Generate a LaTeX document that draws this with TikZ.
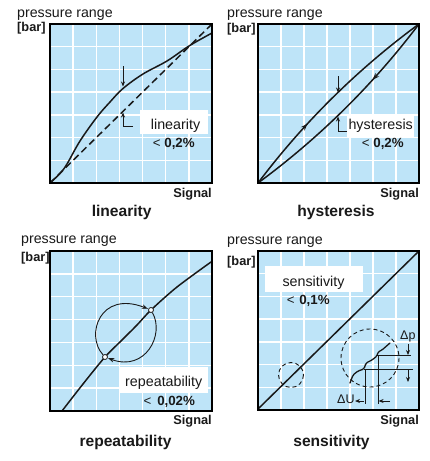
\documentclass[tikz,border=0pt]{standalone}
\usepackage{fontspec}
\setmainfont{Liberation Sans}
\usetikzlibrary{arrows.meta,decorations.markings}
\definecolor{bgblue}{RGB}{190,228,248}
\definecolor{ink}{RGB}{25,25,25}
\newcommand\gridpanel[4]{%
  \fill[bgblue] (#1,#2) rectangle ++(#3,#4);
  \foreach \k in {1,...,6}{%
    \draw[gridl] ({#1+\k*#3/7},#2) -- ++(0,#4);
    \draw[gridl] (#1,{#2+\k*#4/7}) -- ++(#3,0);
  }%
}
\newcommand\panelframe[4]{\draw[frame] (#1,#2) rectangle ++(#3,#4);}
\begin{document}
\begin{tikzpicture}[x=1pt,y=-1pt,
  frame/.style={draw=black,line width=1.3pt},
  gridl/.style={draw=white,line width=1.3pt},
  curve/.style={draw=ink,line width=1.5pt,line join=round,line cap=round},
  thinarrow/.style={draw=ink,line width=0.9pt,-{Stealth[length=5pt,width=4pt]}},
  plain/.style={draw=ink,line width=0.9pt},
  axislbl/.style={inner sep=0pt,anchor=base west,text=ink,font=\fontsize{14.2}{16}\selectfont},
  unitlbl/.style={inner sep=0pt,anchor=base west,text=ink,font=\bfseries\fontsize{12.8}{14}\selectfont},
  siglbl/.style={inner sep=0pt,anchor=base east,text=ink,font=\bfseries\fontsize{12.8}{14}\selectfont},
  titlelbl/.style={inner sep=0pt,anchor=base,text=ink,font=\bfseries\fontsize{15.6}{18}\selectfont},
  boxlbl/.style={inner sep=0pt,anchor=base west,text=ink,font=\fontsize{14.3}{16}\selectfont},
  vallbl/.style={inner sep=0pt,anchor=base west,text=ink,font=\fontsize{13.3}{15}\selectfont},
  dlbl/.style={inner sep=0pt,anchor=base west,text=ink,font=\fontsize{12.5}{14}\selectfont},
  dcircle/.style={draw=ink,line width=0.9pt,dash pattern=on 4pt off 3pt},
  marker/.style={circle,draw=ink,fill=white,line width=0.8pt,inner sep=0pt,minimum size=5pt},
  midarrow/.style={postaction={decorate},decoration={markings,mark=at position #1 with {\arrow{Stealth[length=7pt,width=5pt]}}}},
]
\useasboundingbox (0,0) rectangle (430,461);

% ---------- backgrounds ----------
\gridpanel{50}{24}{162}{159}
\gridpanel{258}{24}{161}{159}
\gridpanel{50}{251}{162}{160}
\gridpanel{258}{251}{161}{159}

% ---------- panel 1: linearity ----------
\fill[white] (140,110) rectangle (208,134);
\draw[curve,dash pattern=on 7pt off 4pt,line cap=butt] (50,183) -- (212,24);
\draw[curve] plot[smooth,tension=0.6] coordinates {(50,183) (60,173.5) (67,164) (80,141) (97,117) (110,102) (123,88.5) (143,74) (167,61) (189,46) (212,33)};
\coordinate (a1s) at (123,66);
\coordinate (a1e) at (123,86.5);
\draw[thinarrow] (a1s) -- (a1e);
\coordinate (l1s) at (133,126);
\coordinate (l1c) at (123,126);
\coordinate (l1e) at (123,112.5);
\draw[thinarrow] (l1s) -- (l1c) -- (l1e);
\node[boxlbl] (lin) at (150.7,129.3) {linearity};
\node[vallbl] (linv) at (152.7,147.7) {< \textbf{0,2\%}};
\node[axislbl] (pr1) at (17,17.5) {pressure range};
\node[unitlbl] (bar1) at (17,31.7) {[bar]};
\node[siglbl] (sig1) at (212,197.5) {Signal};
\node[titlelbl] (t1) at (121.7,216.7) {linearity};

% ---------- panel 2: hysteresis ----------
\fill[white] (346.7,115) rectangle (414.3,136.5);
\coordinate (p2a) at (258,183);
\coordinate (p2b) at (419,24);
\draw[curve,midarrow=0.34] (p2a) .. controls (304,122) and (357.6,69.2) .. (p2b);
\draw[curve,midarrow=0.32] (p2b) .. controls (373,84.8) and (319.4,137.8) .. (p2a);
\coordinate (a2s) at (338,76);
\coordinate (a2e) at (338,92.5);
\draw[thinarrow] (a2s) -- (a2e);
\coordinate (l2s) at (347,131);
\coordinate (l2c) at (338,131);
\coordinate (l2e) at (338,116.5);
\draw[thinarrow] (l2s) -- (l2c) -- (l2e);
\node[boxlbl] (hys) at (348.3,129.3) {hysteresis};
\node[vallbl] (hysv) at (361.7,147.7) {< \textbf{0,2\%}};
\node[axislbl] (pr2) at (227,17.5) {pressure range};
\node[unitlbl] (bar2) at (227,32.5) {[bar]};
\node[siglbl] (sig2) at (419,197.5) {Signal};
\node[titlelbl] (t2) at (336,216.7) {hysteresis};

% ---------- panel 3: repeatability ----------
\fill[white] (120,366.7) rectangle (208.3,393.3);
\draw[curve] plot[smooth,tension=0.5] coordinates {(62,411) (83,384) (105,357) (122,340) (137,325) (151,310) (177,287) (211,262)};
\node[marker] (m1) at (105,357) {};
\node[marker] (m2) at (151,310) {};
\draw[plain,-{Stealth[length=6pt,width=4.5pt]},shorten >=0.5pt] (m1) .. controls (85,335) and (100,290) .. (m2);
\draw[plain,-{Stealth[length=6pt,width=4.5pt]},shorten >=0.5pt] (m2) .. controls (165,335) and (145,372) .. (m1);
\node[boxlbl] (rep) at (125,386) {repeatability};
\node[vallbl] (repv) at (143.3,405) {<\hspace{0.45em}\textbf{0,02\%}};
\node[axislbl] (pr3) at (21,243.5) {pressure range};
\node[unitlbl] (bar3) at (21,261.5) {[bar]};
\node[siglbl] (sig3) at (212,424) {Signal};
\node[titlelbl] (t3) at (125.5,446.7) {repeatability};

% ---------- panel 4: sensitivity ----------
\fill[white] (265,266) rectangle (363.3,291.7);
\coordinate (p4a) at (258,409);
\coordinate (p4b) at (419,251);
\draw[curve] (p4a) -- (p4b);
\draw[dcircle] (291,375) circle[radius=12.5];
\draw[dcircle] (370,358) circle[radius=29];
\draw[curve,line width=1.3pt,rounded corners=1.5pt] (350,383) -- (353,375) -- (358,371) -- (364,369) -- (366,363) -- (372,360) -- (377,356) -- (378,352) -- (382,350) -- (390,343);
\coordinate (h1s) at (364,369.5);
\coordinate (h1e) at (413,369.5);
\coordinate (h2s) at (377,355.5);
\coordinate (h2e) at (411,355.5);
\coordinate (v1e) at (365,404);
\coordinate (v2e) at (378,404);
\draw[plain] (h1s) -- (h1e);
\draw[plain] (h2s) -- (h2e);
\draw[plain] (365,369.5) -- (v1e);
\draw[plain] (378,355.5) -- (v2e);
\coordinate (du1s) at (364,401);
\coordinate (du1e) at (355,401);
\coordinate (du2s) at (390,401);
\coordinate (du2e) at (378.6,401);
\draw[thinarrow] (du1s) -- (du1e);
\draw[thinarrow] (du2s) -- (du2e);
\coordinate (dp1s) at (408,344);
\coordinate (dp1e) at (408,355);
\coordinate (dp2s) at (408,370);
\coordinate (dp2e) at (408,382);
\draw[thinarrow] (dp1s) -- (dp1e);
\draw[thinarrow] (dp2s) -- (dp2e);
\node[dlbl] (dp) at (400,339) {Δp};
\node[dlbl] (du) at (337,403.5) {ΔU};
\node[boxlbl] (sen) at (282.3,286.7) {sensitivity};
\node[vallbl] (senv) at (286.7,304) {<\hspace{0.35em}\textbf{0,1\%}};
\node[axislbl] (pr4) at (227,244) {pressure range};
\node[unitlbl] (bar4) at (227,265) {[bar]};
\node[siglbl] (sig4) at (419,424.3) {Signal};
\node[titlelbl] (t4) at (331.5,446.7) {sensitivity};

% ---------- frames ----------
\panelframe{50}{24}{162}{159}
\panelframe{258}{24}{161}{159}
\panelframe{50}{251}{162}{160}
\panelframe{258}{251}{161}{159}
\end{tikzpicture}
\end{document}
